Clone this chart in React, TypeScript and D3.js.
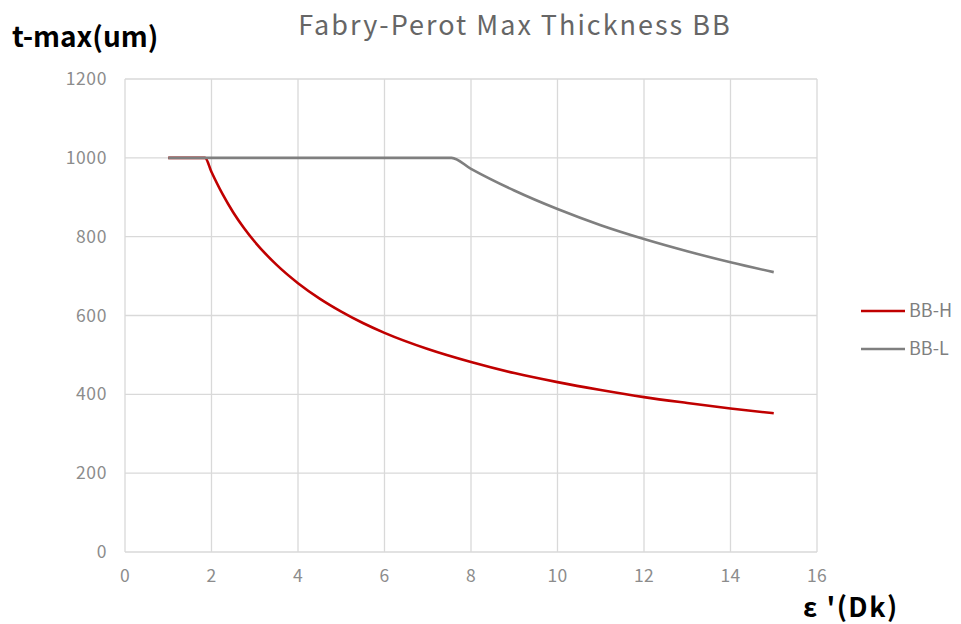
import React from "react";
import * as d3 from "d3";

const xTicks = [0, 2, 4, 6, 8, 10, 12, 14, 16];
const yTicks = [0, 200, 400, 600, 800, 1000, 1200];

const bbHx = [1, 1.5, 1.85, 2, 2.25, 2.5, 2.75, 3, 3.5, 4, 4.5, 5, 5.5, 6, 7, 8, 9, 10, 11, 12, 13, 14, 15];
const bbHy = [1000, 1000, 1000, 964, 909, 862, 822, 787, 729, 682, 643, 610, 581, 556, 515, 482, 454, 431, 411, 393, 378, 364, 352];

const bbLx = [1, 4, 7.55, 8, 9, 10, 11, 12, 13, 14, 15];
const bbLy = [1000, 1000, 1000, 972, 917, 870, 829, 794, 763, 735, 710];

const seriesNames = ["BB-H", "BB-L"];
const seriesColors = ["#C00000", "#7F7F7F"];

const FONT = "'Noto Sans CJK JP', 'Noto Sans', sans-serif";

export default function App() {
  const W = 961, H = 624;
  const left = 125, right = 817, top = 79, bottom = 552;
  const x = d3.scaleLinear().domain([0, 16]).range([left, right]);
  const y = d3.scaleLinear().domain([0, 1200]).range([bottom, top]);
  const line = d3
    .line<[number, number]>()
    .x((d) => x(d[0]))
    .y((d) => y(d[1]))
    .curve(d3.curveMonotoneX);
  const series = [
    bbHx.map((v, i) => [v, bbHy[i]] as [number, number]),
    bbLx.map((v, i) => [v, bbLy[i]] as [number, number]),
  ];
  return (
    <svg width={W} height={H} style={{ position: "absolute", left: 0, top: 0, background: "#fff" }} fontFamily={FONT}>
      <rect x={0} y={0} width={W} height={H} fill="#fff" />
      {xTicks.map((t) => (
        <line key={"gx" + t} x1={x(t)} x2={x(t)} y1={top} y2={bottom} stroke="#D9D9D9" strokeWidth={1.3} />
      ))}
      {yTicks.map((t) => (
        <line key={"gy" + t} x1={left} x2={right} y1={y(t)} y2={y(t)} stroke="#D9D9D9" strokeWidth={1.3} />
      ))}
      {xTicks.map((t) => (
        <text key={"tx" + t} x={x(t)} y={bottom + 30} textAnchor="middle" fontSize={17.5} fill="#8C8C8C" letterSpacing={0.3}>
          {t}
        </text>
      ))}
      {yTicks.map((t) => (
        <text key={"ty" + t} x={left - 18} y={y(t) + 6} textAnchor="end" fontSize={17.5} fill="#8C8C8C" letterSpacing={0.6}>
          {t}
        </text>
      ))}
      {series.map((s, i) => (
        <path key={"s" + i} d={line(s) || ""} fill="none" stroke={seriesColors[i]} strokeWidth={2.6} strokeLinejoin="round" />
      ))}
      <text x={515} y={35} textAnchor="middle" fontSize={27} fill="#666666" letterSpacing={2}>
        Fabry-Perot Max Thickness BB
      </text>
      <text x={12} y={47} fontSize={28} fontWeight="bold" fill="#000">
        t-max(um)
      </text>
      <text x={803} y={617} fontSize={27} fontWeight="bold" fill="#000" letterSpacing={1.5}>
        ε '(Dk)
      </text>
      {seriesNames.map((n, i) => (
        <g key={"lg" + i}>
          <line x1={861} x2={905} y1={311 + i * 38} y2={311 + i * 38} stroke={seriesColors[i]} strokeWidth={2.6} />
          <text x={909} y={317 + i * 38} fontSize={18} fill="#7F7F7F">
            {n}
          </text>
        </g>
      ))}
    </svg>
  );
}
